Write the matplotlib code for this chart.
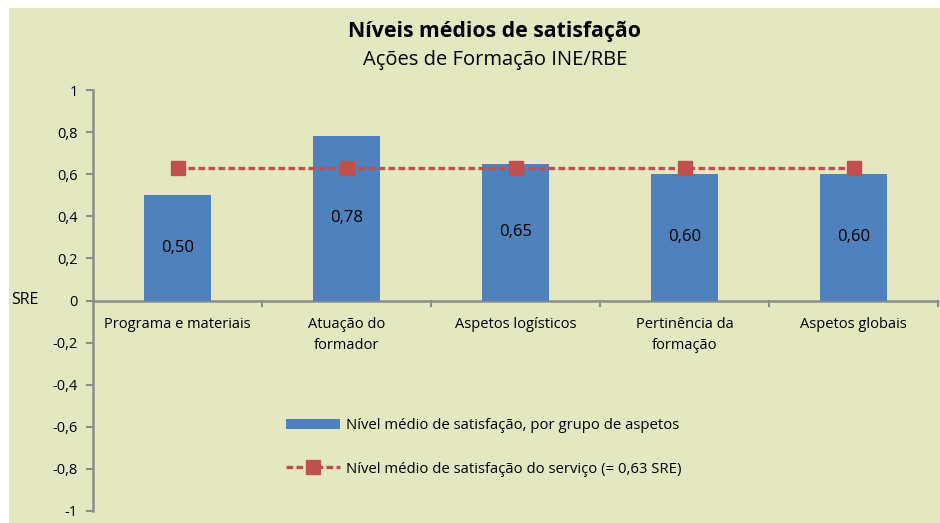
import matplotlib.pyplot as plt
from matplotlib.patches import Rectangle
from matplotlib.lines import Line2D

categorias = ['Programa e materiais', 'Atuação do\nformador', 'Aspetos logísticos',
              'Pertinência da\nformação', 'Aspetos globais']
nivel_grupo = [0.50, 0.78, 0.65, 0.60, 0.60]
nivel_servico = [0.63, 0.63, 0.63, 0.63, 0.63]
yticks = [-1, -0.8, -0.6, -0.4, -0.2, 0, 0.2, 0.4, 0.6, 0.8, 1]

plt.rcParams['font.family'] = ['Open Sans', 'DejaVu Sans']
bg = '#E3E8C1'
blue = '#4F81BD'
red = '#C0504D'

fig = plt.figure(figsize=(9.4, 5.23), dpi=100, facecolor='white')
fig.patches.append(Rectangle((9 / 940, 0), 1, 1 - 8 / 523, transform=fig.transFigure,
                             facecolor=bg, edgecolor='none', zorder=-1))
ax = fig.add_axes([93 / 940, 12 / 523, 845 / 940, 421 / 523])
ax.set_facecolor('none')

x = list(range(len(categorias)))
bars = ax.bar(x, nivel_grupo, width=0.4, color=blue, zorder=2)
for xi, v in zip(x, nivel_grupo):
    ax.text(xi, v / 2, f'{v:.2f}'.replace('.', ','), ha='center', va='center', fontsize=12, zorder=3)
ax.plot(x, nivel_servico, '--', color=red, lw=2.4, dashes=(2.0, 1.0), marker='s', ms=9.5,
        mfc=red, mec=red, zorder=4)

ax.set_xlim(-0.5, 4.5)
ax.set_ylim(-1, 1)
ax.set_yticks(yticks)
ax.set_yticklabels([('%g' % t).replace('.', ',') for t in yticks], fontsize=10.5)
ax.tick_params(axis='y', direction='out', length=5, color='#8C8C8C', width=1.5, pad=6)
for s in ['top', 'right', 'bottom']:
    ax.spines[s].set_visible(False)
ax.spines['left'].set_color('#8C8C8C')
ax.spines['left'].set_linewidth(1.8)
ax.axhline(0, color='#8C8C8C', lw=1.8, zorder=1)
ax.set_xticks([])
for xt in [0.5, 1.5, 2.5, 3.5, 4.5]:
    ax.plot([xt, xt], [0, -0.025], color='#8C8C8C', lw=1.5, clip_on=False)
for xi, c in zip(x, categorias):
    ax.text(xi, -0.08, c, ha='center', va='top', fontsize=10.5, linespacing=1.5)

ax.text(-0.064, 0, 'SRE', transform=ax.get_yaxis_transform(), ha='right', va='center', fontsize=11.5)

fig.text(495 / 940, 1 - 32 / 523, 'Níveis médios de satisfação', ha='center', va='center',
         fontsize=15.3, fontweight='bold')
fig.text(495 / 940, 1 - 60 / 523, 'Ações de Formação INE/RBE', ha='center', va='center', fontsize=14.5)

handles = [Rectangle((0, 0), 1, 1, facecolor=blue),
           Line2D([0], [0], color=red, lw=2.4, ls='--', dashes=(2.0, 1.0), marker='s', ms=9.5)]
labels = ['Nível médio de satisfação, por grupo de aspetos',
          'Nível médio de satisfação do serviço (= 0,63 SRE)']
ax.legend(handles, labels, loc='center left', bbox_to_anchor=(180 / 845, 0.151), frameon=False,
          fontsize=10.7, handlelength=3.6, labelspacing=1.9, handletextpad=0.4)

fig.savefig('out.png', dpi=100, facecolor='white')
